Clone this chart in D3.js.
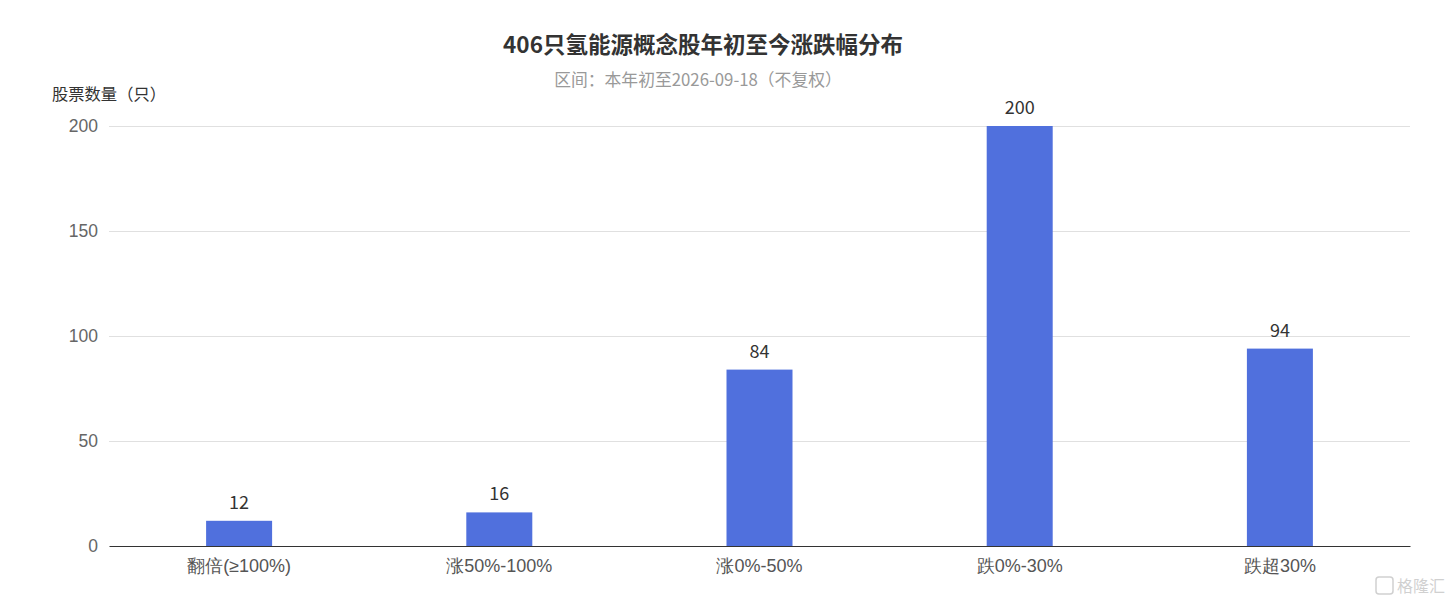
<!DOCTYPE html>
<html><head><meta charset="utf-8">
<script src="https://cdn.jsdelivr.net/npm/d3@7"></script>
<style>body{margin:0;background:#fff;}svg{display:block;font-family:"Microsoft YaHei","Noto Sans CJK SC",sans-serif;}</style>
</head><body>
<svg id="c" width="1450" height="604"></svg>
<script>
const categories = ["翻倍(≥100%)", "涨50%-100%", "涨0%-50%", "跌0%-30%", "跌超30%"];
const counts = [12, 16, 84, 200, 94];
const yTicks = [0, 50, 100, 150, 200];

const svg = d3.select("#c");
const m = {l:109, r:1410, t:126, b:546};
const x = d3.scaleBand().domain(categories).range([m.l, m.r]);
const y = d3.scaleLinear().domain([0, 200]).range([m.b, m.t]);
const bw = 66;

svg.append("text").attr("x", 703).attr("y", 53).attr("text-anchor","middle")
  .attr("font-size", 22.5).attr("font-weight","bold").attr("fill","#333")
  .text("406只氢能源概念股年初至今涨跌幅分布");
svg.append("text").attr("x", 698).attr("y", 86).attr("text-anchor","middle")
  .attr("font-size", 16.8).attr("fill","#999")
  .text("区间：本年初至2026-09-18（不复权）");
svg.append("text").attr("x", 52).attr("y", 100).attr("font-size", 16.3).attr("fill","#333")
  .text("股票数量（只）");

const ya = svg.append("g").attr("transform", `translate(${m.l},0)`)
  .call(d3.axisLeft(y).tickValues(yTicks).tickSize(-(m.r-m.l)).tickPadding(11));
ya.select(".domain").remove();
ya.selectAll(".tick line").attr("stroke", "#e0e0e0");
ya.selectAll(".tick text").attr("font-size", 17.5).attr("fill", "#666").attr("font-family", "inherit");
ya.selectAll(".tick").filter(d => d === 0).select("line").remove();

svg.append("g").selectAll("rect").data(categories).join("rect")
  .attr("x", (d) => x(d) + x.bandwidth()/2 - bw/2)
  .attr("width", bw)
  .attr("y", (d,i) => y(counts[i]))
  .attr("height", (d,i) => y(0) - y(counts[i]))
  .attr("fill", "#5070dd");

svg.append("g").selectAll("text").data(categories).join("text")
  .attr("x", d => x(d) + x.bandwidth()/2)
  .attr("y", (d,i) => y(counts[i]) - 12)
  .attr("text-anchor","middle").attr("font-size", 18).attr("fill","#333")
  .text((d,i) => counts[i]);

const xa = svg.append("g").attr("transform", `translate(0,${m.b})`)
  .call(d3.axisBottom(x).tickSize(0).tickPadding(13));
xa.select(".domain").attr("stroke", "#333").attr("stroke-width", 1.2);
xa.selectAll(".tick text").attr("font-size", 18).attr("fill", "#555").attr("font-family", "inherit");

// watermark
const wm = svg.append("g").attr("opacity", 0.45);
wm.append("rect").attr("x", 1376).attr("y", 577).attr("width", 17).attr("height", 17)
  .attr("rx", 3).attr("fill", "none").attr("stroke", "#999").attr("stroke-width", 1.5);
wm.append("text").attr("x", 1397).attr("y", 592).attr("font-size", 16).attr("fill", "#999").text("格隆汇");
</script>
</body></html>
